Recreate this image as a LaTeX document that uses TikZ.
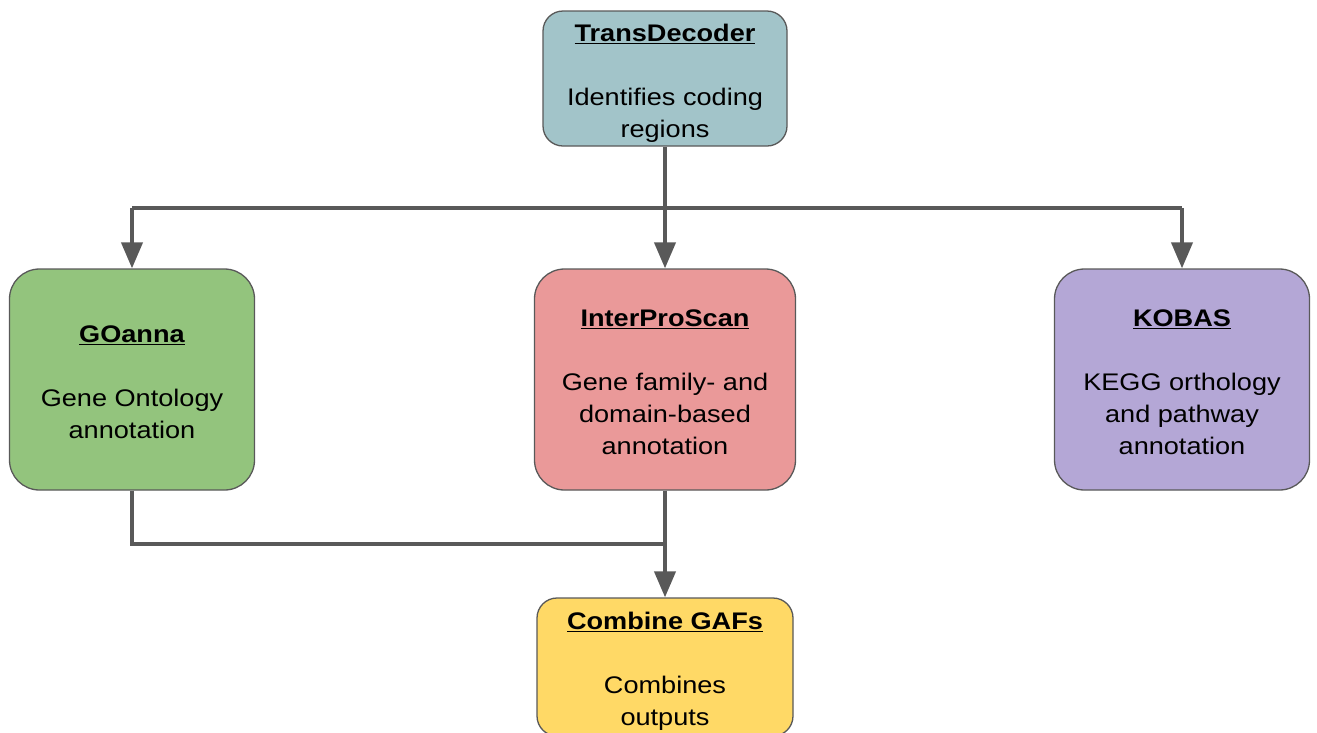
\documentclass[tikz,border=0pt]{standalone}
\usepackage{fontspec}
\usepackage{graphicx}
\setmainfont{Liberation Sans}
\usetikzlibrary{arrows.meta}
\definecolor{tdfill}{HTML}{A2C4C9}
\definecolor{gofill}{HTML}{93C47D}
\definecolor{ipsfill}{HTML}{EA9999}
\definecolor{kobfill}{HTML}{B4A7D6}
\definecolor{combfill}{HTML}{FFD966}
\definecolor{bord}{HTML}{595959}
\definecolor{conncol}{HTML}{595959}
\newcommand\stretchtxt[1]{\raisebox{-4.5pt}[\height][\depth]{\scalebox{1.13}[1]{\fontsize{24}{32}\selectfont\begin{tabular}{@{}c@{}}#1\end{tabular}}}}
\newcommand\ttl[1]{\underline{\textbf{#1}}}
\tikzset{
  box/.style={draw=bord, line width=1.3pt, inner sep=0pt, align=center},
  bigbox/.style={box, rounded corners=30pt, minimum height=221pt},
  smallbox/.style={box, rounded corners=20pt},
  conn/.style={draw=conncol, line width=4pt, line join=miter, line cap=butt},
  arr/.style={conn, -{Triangle[length=26pt,width=21pt]}}
}
\begin{document}
\begin{tikzpicture}[x=1pt,y=-1pt]
\useasboundingbox (0,0) rectangle (1317,732);
\clip (0,0) rectangle (1317,732);
\node[smallbox, fill=tdfill, minimum width=244pt, minimum height=135pt] (td) at (665,78.5)
  {\stretchtxt{\ttl{TransDecoder}\\ \\ Identifies coding\\ regions}};
\node[bigbox, fill=gofill, minimum width=245pt] (go) at (132,379.5)
  {\stretchtxt{\ttl{GOanna}\\ \\ Gene Ontology\\ annotation}};
\node[bigbox, fill=ipsfill, minimum width=261pt] (ips) at (665,379.5)
  {\stretchtxt{\ttl{InterProScan}\\ \\ Gene family- and\\ domain-based\\ annotation}};
\node[bigbox, fill=kobfill, minimum width=255pt] (kob) at (1182,379.5)
  {\stretchtxt{\ttl{KOBAS}\\ \\ KEGG orthology\\ and pathway\\ annotation}};
\node[smallbox, fill=combfill, minimum width=256pt, minimum height=138pt] (comb) at (665,667)
  {\stretchtxt{\ttl{Combine GAFs}\\ \\ Combines\\ outputs}};
\coordinate (hm) at (665,208);
\coordinate (jn) at (665,544);
\draw[conn] (go.north |- hm) -- (kob.north |- hm);
\draw[arr] (td.south) -- (ips.north);
\draw[arr] (go.north |- hm) -- (go.north);
\draw[arr] (kob.north |- hm) -- (kob.north);
\draw[conn] (go.south) |- (jn);
\draw[arr] (ips.south) -- (comb.north);
\end{tikzpicture}
\end{document}
